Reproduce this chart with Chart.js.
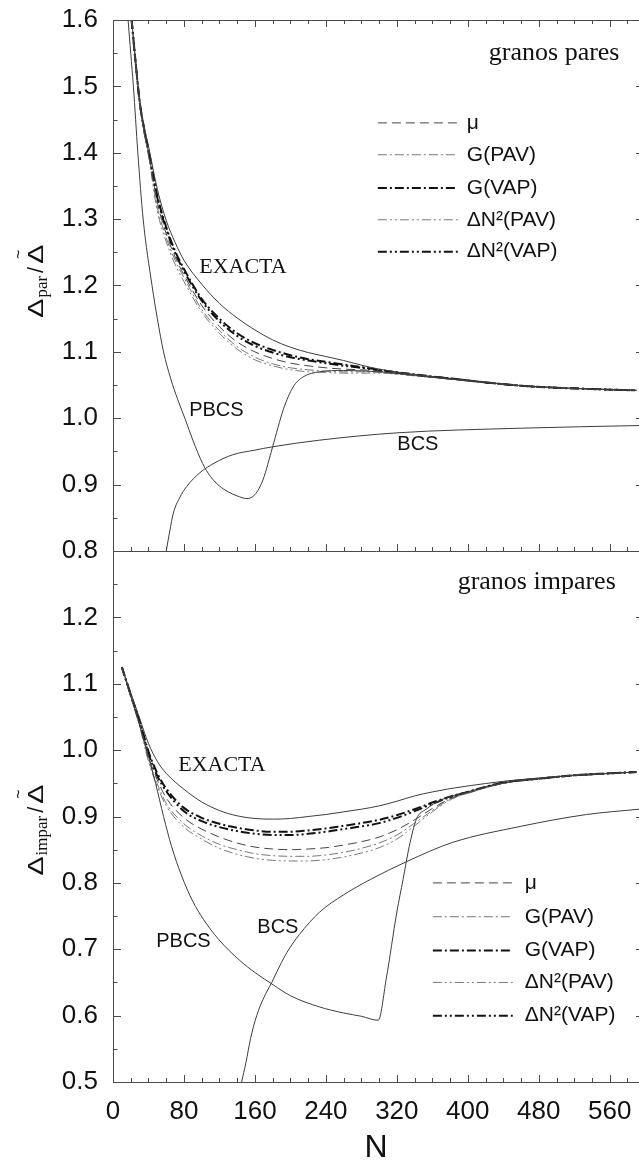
<!DOCTYPE html>
<html>
<head>
<meta charset="utf-8">
<script src="https://cdn.jsdelivr.net/npm/chart.js@4.4.1/dist/chart.umd.min.js"></script>
<style>
  html, body { margin: 0; padding: 0; background: #fff; }
  #wrap { position: relative; width: 639px; height: 1160px; overflow: hidden; }
  #topChart { position: absolute; left: 0; top: 0; }
  #bottomChart { position: absolute; left: 0; top: 531px; }
</style>
</head>
<body>
<div id="wrap">
  <canvas id="topChart" width="639" height="572"></canvas>
  <canvas id="bottomChart" width="639" height="629"></canvas>
</div>
<script>
// ---- data: granos pares (upper panel) ----
const nPar       = [21, 25, 30, 35, 40, 50, 60, 70, 80, 100, 120, 140, 160, 180, 200, 220, 240, 260, 280, 300, 340, 380, 420, 460, 500, 540, 590];
const exactaPar  = [1.600, 1.545, 1.480, 1.440, 1.410, 1.345, 1.298, 1.265, 1.238, 1.202, 1.173, 1.151, 1.133, 1.118, 1.107, 1.099, 1.093, 1.087, 1.080, 1.074, 1.066, 1.060, 1.054, 1.049, 1.046, 1.044, 1.042];
const gVapPar    = [1.600, 1.543, 1.478, 1.437, 1.405, 1.335, 1.288, 1.252, 1.225, 1.180, 1.150, 1.128, 1.113, 1.103, 1.095, 1.089, 1.085, 1.081, 1.077, 1.073, 1.066, 1.060, 1.054, 1.049, 1.046, 1.044, 1.042];
const dnVapPar   = [1.600, 1.543, 1.477, 1.435, 1.403, 1.332, 1.285, 1.249, 1.222, 1.177, 1.146, 1.124, 1.109, 1.099, 1.092, 1.087, 1.083, 1.079, 1.076, 1.072, 1.065, 1.060, 1.054, 1.049, 1.046, 1.044, 1.042];
const muPar      = [1.600, 1.542, 1.477, 1.433, 1.400, 1.325, 1.278, 1.243, 1.216, 1.170, 1.138, 1.115, 1.100, 1.090, 1.083, 1.079, 1.076, 1.074, 1.073, 1.071, 1.065, 1.059, 1.054, 1.049, 1.046, 1.044, 1.042];
const gPavPar    = [1.600, 1.541, 1.476, 1.431, 1.397, 1.318, 1.272, 1.238, 1.212, 1.164, 1.132, 1.108, 1.092, 1.082, 1.076, 1.073, 1.071, 1.070, 1.070, 1.069, 1.064, 1.059, 1.054, 1.049, 1.046, 1.044, 1.042];
const dnPavPar   = [1.600, 1.540, 1.475, 1.430, 1.395, 1.312, 1.266, 1.232, 1.206, 1.160, 1.128, 1.104, 1.088, 1.079, 1.073, 1.070, 1.069, 1.068, 1.068, 1.068, 1.064, 1.059, 1.054, 1.049, 1.046, 1.044, 1.042];
const nPbcsPar   = [17, 20, 23, 28, 34, 44, 50, 57, 65, 73, 81, 90, 101, 110, 120, 130, 140, 151, 160, 169, 180, 192, 203, 214, 233, 260, 300, 340, 380, 420, 460, 500, 540, 590];
const pbcsPar    = [1.600, 1.550, 1.500, 1.400, 1.300, 1.200, 1.150, 1.100, 1.060, 1.028, 1.000, 0.967, 0.932, 0.912, 0.898, 0.889, 0.883, 0.879, 0.885, 0.907, 0.957, 1.013, 1.047, 1.062, 1.070, 1.072, 1.070, 1.065, 1.059, 1.054, 1.049, 1.046, 1.044, 1.042];
const nBcsPar    = [60, 64, 68, 75, 83, 98, 115, 135, 160, 180, 233, 320, 459, 593];
const bcsPar     = [0.800, 0.830, 0.857, 0.880, 0.897, 0.918, 0.933, 0.945, 0.952, 0.957, 0.967, 0.978, 0.985, 0.989];

// ---- data: granos impares (lower panel) ----
const nImpar      = [10, 20, 30, 40, 50, 60, 80, 100, 120, 140, 160, 180, 200, 220, 240, 260, 280, 300, 320, 340, 360, 380, 400, 440, 480, 520, 560, 590];
const exactaImpar = [1.125, 1.086, 1.048, 1.010, 0.983, 0.965, 0.941, 0.922, 0.909, 0.901, 0.897, 0.896, 0.897, 0.900, 0.903, 0.907, 0.911, 0.916, 0.923, 0.931, 0.937, 0.942, 0.946, 0.953, 0.958, 0.962, 0.965, 0.967];
const gVapImpar   = [1.125, 1.084, 1.044, 0.998, 0.965, 0.942, 0.913, 0.898, 0.889, 0.883, 0.879, 0.877, 0.877, 0.879, 0.882, 0.886, 0.890, 0.895, 0.902, 0.911, 0.921, 0.930, 0.937, 0.951, 0.957, 0.962, 0.965, 0.967];
const dnVapImpar  = [1.125, 1.083, 1.042, 0.995, 0.961, 0.938, 0.908, 0.893, 0.884, 0.878, 0.874, 0.872, 0.872, 0.874, 0.877, 0.881, 0.885, 0.890, 0.898, 0.908, 0.919, 0.929, 0.937, 0.951, 0.957, 0.962, 0.965, 0.967];
const muImpar     = [1.125, 1.082, 1.040, 0.990, 0.955, 0.928, 0.898, 0.881, 0.869, 0.860, 0.854, 0.851, 0.850, 0.851, 0.853, 0.857, 0.862, 0.869, 0.880, 0.895, 0.912, 0.927, 0.936, 0.950, 0.957, 0.962, 0.965, 0.967];
const gPavImpar   = [1.125, 1.081, 1.038, 0.986, 0.949, 0.920, 0.889, 0.871, 0.858, 0.850, 0.844, 0.841, 0.840, 0.840, 0.842, 0.846, 0.852, 0.860, 0.872, 0.890, 0.909, 0.926, 0.935, 0.950, 0.957, 0.962, 0.965, 0.967];
const dnPavImpar  = [1.125, 1.080, 1.036, 0.983, 0.945, 0.916, 0.884, 0.866, 0.852, 0.843, 0.837, 0.834, 0.833, 0.833, 0.835, 0.839, 0.845, 0.853, 0.866, 0.886, 0.907, 0.925, 0.935, 0.950, 0.957, 0.962, 0.965, 0.967];
const nPbcsImpar  = [10, 18, 28, 38, 48, 57, 66, 77, 90, 102, 119, 143, 160, 181, 200, 233, 260, 280, 299, 308, 320, 327, 334, 342, 353, 370, 400, 440, 480, 520, 560, 590];
const pbcsImpar   = [1.125, 1.090, 1.046, 1.000, 0.950, 0.900, 0.855, 0.812, 0.772, 0.745, 0.715, 0.683, 0.665, 0.646, 0.630, 0.613, 0.604, 0.599, 0.593, 0.655, 0.756, 0.805, 0.855, 0.896, 0.911, 0.925, 0.937, 0.951, 0.957, 0.962, 0.965, 0.967];
const nBcsImpar   = [145, 150, 155, 162, 170, 179, 188, 196, 210, 233, 260, 290, 331, 383, 459, 534, 593];
const bcsImpar    = [0.500, 0.530, 0.565, 0.600, 0.627, 0.650, 0.675, 0.695, 0.722, 0.756, 0.782, 0.805, 0.832, 0.861, 0.885, 0.903, 0.911];

const seriesNames = ['μ', 'G(PAV)', 'G(VAP)', 'ΔN²(PAV)', 'ΔN²(VAP)'];
const xTicks = [0, 80, 160, 240, 320, 400, 480, 560];

const axisColor = '#4a4a4a';
const sans = '"Liberation Sans", Arial, Helvetica, sans-serif';
const serif = '"Liberation Serif", "Times New Roman", serif';

// line styles for the approximations, same order as seriesNames
const styles = [
    { borderColor: '#444', borderWidth: 1, borderDash: [9, 5] },
    { borderColor: '#555', borderWidth: 0.8, borderDash: [9, 3, 2, 3] },
    { borderColor: '#111', borderWidth: 2, borderDash: [9, 3, 2, 3] },
    { borderColor: '#555', borderWidth: 0.8, borderDash: [9, 3, 2, 3, 2, 3] },
    { borderColor: '#111', borderWidth: 2, borderDash: [9, 3, 2, 3, 2, 3] }
];
const solid = { borderColor: '#3c3c3c', borderWidth: 1, borderDash: [] };

function pts(xs, ys) {
    return xs.map((n, i) => ({ x: n, y: ys[i] }));
}

function makeDatasets(n, exacta, approx, nPbcs, pbcs, nBcs, bcs) {
    const sets = [
        Object.assign({ label: 'EXACTA', data: pts(n, exacta) }, solid),
        Object.assign({ label: 'PBCS', data: pts(nPbcs, pbcs) }, solid),
        Object.assign({ label: 'BCS', data: pts(nBcs, bcs) }, solid)
    ];
    approx.forEach((ys, i) => {
        sets.push(Object.assign({ label: seriesNames[i], data: pts(n, ys) }, styles[i]));
    });
    return sets;
}

// tick marks, extra border, labels, legend and axis title
const decor = {
    id: 'decor',
    afterDraw(chart, args, o) {
        const { ctx, chartArea: a, scales: { x, y } } = chart;
        ctx.save();
        ctx.strokeStyle = axisColor;
        ctx.lineWidth = 1;
        ctx.setLineDash([]);
        ctx.beginPath();
        if (o.topBorder) {
            ctx.moveTo(a.left, a.top + 0.5);
            ctx.lineTo(a.right, a.top + 0.5);
        }
        for (let n = 0; n <= x.max; n += 20) {
            const px = Math.round(x.getPixelForValue(n)) + 0.5;
            const len = n % 80 === 0 ? 7 : 4;
            ctx.moveTo(px, a.bottom);
            ctx.lineTo(px, a.bottom - len);
            if (o.topBorder) {
                ctx.moveTo(px, a.top);
                ctx.lineTo(px, a.top + len);
            }
        }
        const steps = Math.round((y.max - y.min) / 0.05);
        for (let k = 0; k <= steps; k++) {
            const py = Math.round(y.getPixelForValue(y.min + k * 0.05)) + 0.5;
            const major = k % 2 === 0;
            ctx.moveTo(a.left, py);
            ctx.lineTo(a.left + (major ? 8 : 4.5), py);
            if (major) {
                ctx.moveTo(a.right, py);
                ctx.lineTo(a.right - 3, py);
            }
        }
        ctx.stroke();

        // curve labels
        ctx.fillStyle = '#111';
        o.labels.forEach(l => {
            ctx.font = l.font;
            ctx.textAlign = l.align || 'center';
            ctx.textBaseline = l.baseline || 'middle';
            ctx.fillText(l.text, x.getPixelForValue(l.n), y.getPixelForValue(l.v));
        });

        // legend
        const lx1 = x.getPixelForValue(o.legend.n1);
        const lx2 = x.getPixelForValue(o.legend.n2);
        const tx = x.getPixelForValue(o.legend.nText);
        ctx.font = '21px ' + sans;
        ctx.textAlign = 'left';
        ctx.textBaseline = 'middle';
        seriesNames.forEach((name, i) => {
            const py = y.getPixelForValue(o.legend.rows[i]);
            const st = styles[i];
            ctx.strokeStyle = st.borderColor;
            ctx.lineWidth = st.borderWidth;
            ctx.setLineDash(st.borderDash);
            ctx.beginPath();
            ctx.moveTo(lx1, py);
            ctx.lineTo(lx2, py);
            ctx.stroke();
            ctx.fillText(name, tx, py);
        });
        ctx.setLineDash([]);

        // y axis title: Δ_sub / Δ~ written bottom to top
        drawYTitle(ctx, a.left - 70, y.getPixelForValue(o.title.v), o.title.sub);
        ctx.restore();
    }
};

function drawYTitle(ctx, cx, cy, sub) {
    ctx.save();
    ctx.translate(cx, cy);
    ctx.rotate(-Math.PI / 2);
    const big = '22px ' + sans;
    const small = '17px ' + serif;
    const sx = 1.3;
    ctx.font = big;
    const wD = ctx.measureText('Δ').width * sx;
    const wSl = ctx.measureText('/').width;
    ctx.font = small;
    const wSub = ctx.measureText(sub).width;
    const gap = 3;
    const total = wD + wSub + wSl + wD + gap * 3;
    let u = -total / 2;
    ctx.fillStyle = '#111';
    ctx.textAlign = 'left';
    ctx.textBaseline = 'alphabetic';
    const delta = pos => {
        ctx.save();
        ctx.translate(pos, 0);
        ctx.scale(sx, 1);
        ctx.font = big;
        ctx.fillText('Δ', 0, 0);
        ctx.restore();
    };
    delta(u);
    u += wD + 1;
    ctx.font = small;
    ctx.fillText(sub, u, 4);
    u += wSub + gap;
    ctx.font = big;
    ctx.fillText('/', u, 0);
    u += wSl + gap;
    delta(u);
    ctx.font = '16px ' + sans;
    ctx.textAlign = 'center';
    ctx.fillText('~', u + wD / 2, -19);
    ctx.restore();
}

function makeChart(id, cfg) {
    const xScale = {
        type: 'linear',
        min: 0,
        max: 593,
        border: { display: true, color: axisColor, width: 1 },
        grid: { display: true, drawOnChartArea: false, drawTicks: true, tickLength: 14, color: 'rgba(0,0,0,0)' },
        ticks: {
            display: cfg.showX,
            stepSize: 80,
            includeBounds: false,
            padding: 0,
            color: '#111',
            font: { family: sans, size: 26 }
        },
        afterBuildTicks: s => { s.ticks = xTicks.map(v => ({ value: v })); },
        afterFit: s => { s.height = cfg.xHeight; }
    };
    if (cfg.showX) {
        xScale.title = {
            display: true,
            text: 'N',
            color: '#111',
            padding: { top: 0, bottom: 0 },
            font: { family: sans, size: 32, lineHeight: 0.75 }
        };
    }
    return new Chart(document.getElementById(id), {
        type: 'line',
        data: { datasets: cfg.datasets },
        options: {
            responsive: false,
            animation: false,
            devicePixelRatio: 1,
            layout: { padding: { top: 20, bottom: cfg.padBottom, left: 0, right: 0 } },
            elements: {
                point: { radius: 0 },
                line: { cubicInterpolationMode: 'monotone', borderCapStyle: 'butt', fill: false }
            },
            plugins: {
                legend: { display: false },
                tooltip: { enabled: false },
                decor: cfg.decor
            },
            scales: {
                x: xScale,
                y: {
                    min: cfg.yMin,
                    max: cfg.yMax,
                    border: { display: true, color: axisColor, width: 1 },
                    grid: { display: true, drawOnChartArea: false, drawTicks: true, tickLength: 15, color: 'rgba(0,0,0,0)' },
                    ticks: {
                        stepSize: 0.1,
                        padding: 0,
                        color: '#111',
                        font: { family: sans, size: 26 },
                        callback: v => v.toFixed(1)
                    },
                    afterBuildTicks: s => { s.ticks = s.ticks.filter(t => t.value <= cfg.yLabelMax + 1e-6); },
                    afterFit: s => { s.width = 113; }
                }
            }
        },
        plugins: [decor]
    });
}

makeChart('topChart', {
    yMin: 0.8, yMax: 1.6, yLabelMax: 1.6, showX: false, xHeight: 0, padBottom: 21,
    datasets: makeDatasets(nPar, exactaPar, [muPar, gPavPar, gVapPar, dnPavPar, dnVapPar], nPbcsPar, pbcsPar, nBcsPar, bcsPar),
    decor: {
        topBorder: true,
        labels: [
            { text: 'granos pares', n: 571, v: 1.54, font: '26px ' + serif, align: 'right', baseline: 'alphabetic' },
            { text: 'EXACTA', n: 146.5, v: 1.227, font: '22px ' + serif },
            { text: 'PBCS', n: 116.6, v: 1.011, font: '20px ' + sans },
            { text: 'BCS', n: 343.7, v: 0.96, font: '20px ' + sans }
        ],
        legend: { n1: 298.6, n2: 388.7, nText: 398.9, rows: [1.445, 1.397, 1.347, 1.299, 1.251] },
        title: { v: 1.208, sub: 'par' }
    }
});

makeChart('bottomChart', {
    yMin: 0.5, yMax: 1.3, yLabelMax: 1.2, showX: true, xHeight: 78, padBottom: 0,
    datasets: makeDatasets(nImpar, exactaImpar, [muImpar, gPavImpar, gVapImpar, dnPavImpar, dnVapImpar], nPbcsImpar, pbcsImpar, nBcsImpar, bcsImpar),
    decor: {
        topBorder: false,
        labels: [
            { text: 'granos impares', n: 566.8, v: 1.242, font: '26px ' + serif, align: 'right', baseline: 'alphabetic' },
            { text: 'EXACTA', n: 122.8, v: 0.977, font: '22px ' + serif },
            { text: 'PBCS', n: 79.4, v: 0.712, font: '20px ' + sans },
            { text: 'BCS', n: 185.9, v: 0.733, font: '20px ' + sans }
        ],
        legend: { n1: 360.6, n2: 450.7, nText: 464.2, rows: [0.8, 0.749, 0.698, 0.65, 0.6] },
        title: { v: 0.881, sub: 'impar' }
    }
});
</script>
</body>
</html>
